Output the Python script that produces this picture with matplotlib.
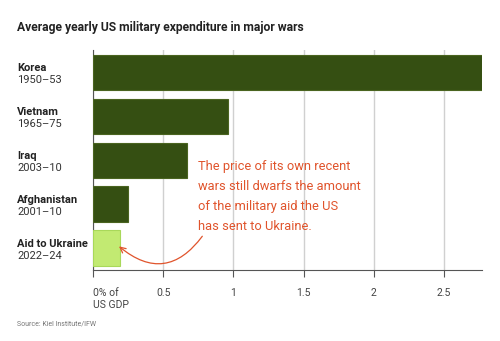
import matplotlib.pyplot as plt

plt.rcParams['font.family'] = ['Roboto', 'DejaVu Sans']

# 数据
wars = ['Korea', 'Vietnam', 'Iraq', 'Afghanistan', 'Aid to Ukraine']
years = ['1950–53', '1965–75', '2003–10', '2001–10', '2022–24']
gdp_share = [2.77, 0.96, 0.67, 0.25, 0.19]
bar_colors = ['#354f12', '#354f12', '#354f12', '#354f12', '#c2ea72']
xticks = [0, 0.5, 1, 1.5, 2, 2.5]
xtick_labels = ['0% of\nUS GDP', '0.5', '1', '1.5', '2', '2.5']

fig = plt.figure(figsize=(5, 3.41), dpi=100)
ax = fig.add_axes([0.186, 0.208, 0.778, 0.645])

ypos = list(range(len(wars)))
ax.barh(ypos, gdp_share, height=0.8, color=bar_colors,
        edgecolor=['#4a6420'] * 4 + ['#a9d85a'], linewidth=0.8, zorder=3)
ax.set_ylim(4.5, -0.5)
ax.set_xlim(0, 2.77)

# 网格
ax.set_xticks(xticks)
ax.set_xticklabels(xtick_labels, fontsize=7.5, color='#444444')
ax.get_xticklabels()[0].set_ha('left')
ax.grid(axis='x', color='#d0d0d0', linewidth=1, zorder=0)
ax.set_yticks([])
for s in ['top', 'right']:
    ax.spines[s].set_visible(False)
ax.spines['left'].set_color('#555555')
ax.spines['bottom'].set_color('#555555')
ax.tick_params(axis='x', length=5, color='#555555', pad=8)

# 左侧标签
for i in ypos:
    y = ax.transData.transform((0, i))[1]
    yf = fig.transFigure.inverted().transform((0, y))[1]
    fig.text(0.034, yf + 0.013, wars[i], fontsize=8, fontweight='bold', color='#222222', va='center')
    fig.text(0.034, yf - 0.023, years[i], fontsize=8, color='#333333', va='center')

fig.text(0.034, 0.92, 'Average yearly US military expenditure in major wars',
         fontsize=8.7, fontweight='bold', color='#222222', va='center')
fig.text(0.034, 0.05, 'Source: Kiel Institute/IFW', fontsize=5, color='#777777', va='center')

# 注释
note = 'The price of its own recent\nwars still dwarfs the amount\nof the military aid the US\nhas sent to Ukraine.'
ax.text(0.75, 2.0, note, fontsize=9.3, color='#e0542c', va='top', ha='left',
        linespacing=1.7, zorder=5)
ax.annotate('', xy=(0.17, 3.92), xytext=(0.79, 3.68),
            arrowprops=dict(arrowstyle='->', color='#e0542c', lw=0.9,
                            connectionstyle='arc3,rad=-0.55'), zorder=5)

fig.savefig('out.png', dpi=100, facecolor='white')
